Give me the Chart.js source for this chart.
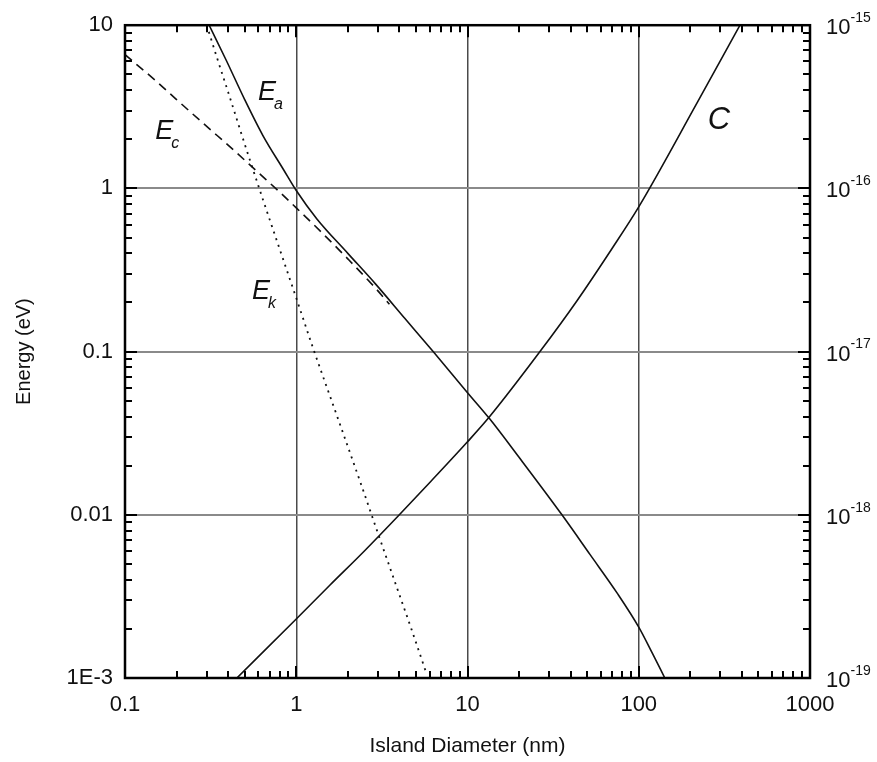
<!DOCTYPE html>
<html>
<head>
<meta charset="utf-8">
<script src="https://cdn.jsdelivr.net/npm/chart.js@4"></script>
<style>
  html, body { margin: 0; padding: 0; background: #fff; }
</style>
</head>
<body>
<canvas id="chart" width="877" height="762"></canvas>
<script>
// island diameter (nm) -> energies (eV)
const eaX = [0.31, 0.39, 0.5, 0.64, 0.84, 1, 1.32, 2, 2.9, 4.3, 6.3, 10, 13.4, 20, 35.6, 52, 75, 100, 120, 142];
const eaY = [10, 6.1, 3.5, 2.1, 1.31, 0.97, 0.65, 0.40, 0.26, 0.16, 0.1, 0.056, 0.039, 0.0225, 0.01, 0.0057, 0.0033, 0.00205, 0.00142, 0.001];

const ecX = [0.1, 0.15, 0.2, 0.3, 0.43, 0.6, 0.8, 1, 1.4, 2, 2.9, 3.5];
const ecY = [6.6, 4.6, 3.5, 2.4, 1.72, 1.25, 0.95, 0.76, 0.54, 0.37, 0.245, 0.195];

const ekX = [0.3, 0.35, 0.4, 0.5, 0.64, 0.8, 1, 1.25, 1.75, 2.4, 3, 3.9, 4.7, 5.7];
const ekY = [10, 6.0, 3.9, 1.87, 0.85, 0.425, 0.213, 0.106, 0.039, 0.0152, 0.0077, 0.0035, 0.002, 0.0011];

// capacitance (F), right axis
const cX = [0.45, 1, 1.57, 2.5, 4, 6.1, 10, 13.4, 26.5, 43.6, 70, 100, 219, 390];
const cY = [1e-19, 2.3e-19, 3.7e-19, 6.0e-19, 1.0e-18, 1.6e-18, 2.8e-18, 3.97e-18, 1.0e-17, 2.05e-17, 4.3e-17, 7.7e-17, 3.34e-16, 1e-15];

// tick labels
const xTicks = [0.1, 1, 10, 100, 1000];
const xTickLabels = ['0.1', '1', '10', '100', '1000'];
const yTicks = [0.001, 0.01, 0.1, 1, 10];
const yTickLabels = ['1E-3', '0.01', '0.1', '1', '10'];
const cTickExps = [-19, -18, -17, -16, -15];

const FONT = '"Liberation Sans", Arial, Helvetica, sans-serif';
Chart.defaults.font.family = FONT;
Chart.defaults.color = '#111';

function pts(xs, ys) {
  return xs.map((v, i) => ({ x: v, y: ys[i] }));
}

// inward ticks, frame, right axis labels and curve names
const framePlugin = {
  id: 'frame',
  afterDatasetsDraw(chart) {
    const { ctx, chartArea: a, scales: { x, y, y2 } } = chart;
    ctx.save();
    ctx.strokeStyle = '#000';
    ctx.lineWidth = 2;
    ctx.beginPath();
    for (let e = -1; e <= 3; e++) {
      for (let m = 1; m <= 9; m++) {
        const v = m * Math.pow(10, e);
        if (v > 1000) break;
        const px = Math.round(x.getPixelForValue(v));
        const len = m === 1 ? 12 : 7;
        ctx.moveTo(px, a.bottom); ctx.lineTo(px, a.bottom - len);
        ctx.moveTo(px, a.top); ctx.lineTo(px, a.top + len);
      }
    }
    for (let e = -3; e <= 1; e++) {
      for (let m = 1; m <= 9; m++) {
        const v = m * Math.pow(10, e);
        if (v > 10) break;
        const py = Math.round(y.getPixelForValue(v));
        const len = m === 1 ? 12 : 7;
        ctx.moveTo(a.left, py); ctx.lineTo(a.left + len, py);
        ctx.moveTo(a.right, py); ctx.lineTo(a.right - len, py);
      }
    }
    ctx.stroke();
    ctx.lineWidth = 2.5;
    ctx.strokeRect(a.left, a.top, a.width, a.height);

    // right axis: 10^n
    ctx.fillStyle = '#111';
    ctx.textBaseline = 'middle';
    ctx.textAlign = 'left';
    cTickExps.forEach(n => {
      const py = y2.getPixelForValue(Math.pow(10, n));
      ctx.font = '22px ' + FONT;
      const lx = a.right + 16;
      ctx.fillText('10', lx, py + 3);
      const w = ctx.measureText('10').width;
      ctx.font = '14px ' + FONT;
      ctx.fillText('-' + Math.abs(n), lx + w, py - 7);
    });

    // curve names, anchored in data units
    const names = [
      { t: 'E', s: 'a', x: 0.598, y: 3.5 },
      { t: 'E', s: 'c', x: 0.150, y: 2.0 },
      { t: 'E', s: 'k', x: 0.552, y: 0.21 },
      { t: 'C', s: '', x: 253, y: 2.3 }
    ];
    ctx.textBaseline = 'alphabetic';
    names.forEach(n => {
      const px = x.getPixelForValue(n.x);
      const py = y.getPixelForValue(n.y);
      ctx.font = 'italic ' + (n.s ? 27 : 31) + 'px ' + FONT;
      ctx.fillText(n.t, px, py);
      if (n.s) {
        const w = ctx.measureText(n.t).width;
        ctx.font = 'italic 16px ' + FONT;
        ctx.fillText(n.s, px + w - 2, py + 9);
      }
    });
    ctx.restore();
  }
};

const line = (data, extra) => Object.assign({
  data: data,
  borderColor: '#111',
  borderWidth: 1.6,
  pointRadius: 0,
  cubicInterpolationMode: 'monotone',
  fill: false,
  yAxisID: 'y'
}, extra);

new Chart(document.getElementById('chart'), {
  type: 'line',
  data: {
    datasets: [
      line(pts(eaX, eaY), { label: 'Ea' }),
      line(pts(ecX, ecY), { label: 'Ec', borderDash: [9, 6] }),
      line(pts(ekX, ekY), { label: 'Ek', borderDash: [2, 5], borderWidth: 1.8 }),
      line(pts(cX, cY), { label: 'C', yAxisID: 'y2' })
    ]
  },
  options: {
    responsive: false,
    devicePixelRatio: 1,
    animation: false,
    layout: { padding: { top: 22 } },
    plugins: { legend: { display: false }, tooltip: { enabled: false } },
    scales: {
      x: {
        type: 'logarithmic',
        min: 0.1, max: 1000,
        afterBuildTicks: s => { s.ticks = xTicks.map(v => ({ value: v })); },
        afterFit: s => { s.height = 84; },
        ticks: {
          callback: (v, i) => xTickLabels[i],
          font: { size: 22 }, padding: 14, maxRotation: 0, autoSkip: false
        },
        grid: { color: '#4a4a4a', lineWidth: 1.5, drawTicks: false },
        border: { display: false },
        title: { display: true, text: 'Island Diameter (nm)', font: { size: 21 }, padding: { top: 0, bottom: 3 } }
      },
      y: {
        type: 'logarithmic',
        position: 'left',
        min: 0.001, max: 10,
        afterBuildTicks: s => { s.ticks = yTicks.map(v => ({ value: v })); },
        afterFit: s => { s.width = 125; },
        ticks: {
          callback: (v, i) => yTickLabels[i],
          font: { size: 22 }, padding: 12, autoSkip: false
        },
        grid: { color: '#8a8a8a', lineWidth: 2, drawTicks: false },
        border: { display: false },
        title: { display: true, text: 'Energy (eV)', font: { size: 20 }, padding: { top: 12, bottom: 0 } }
      },
      y2: {
        type: 'logarithmic',
        position: 'right',
        min: 1e-19, max: 1e-15,
        afterFit: s => { s.width = 67; },
        ticks: { display: false },
        grid: { display: false },
        border: { display: false }
      }
    }
  },
  plugins: [framePlugin]
});
</script>
</body>
</html>
